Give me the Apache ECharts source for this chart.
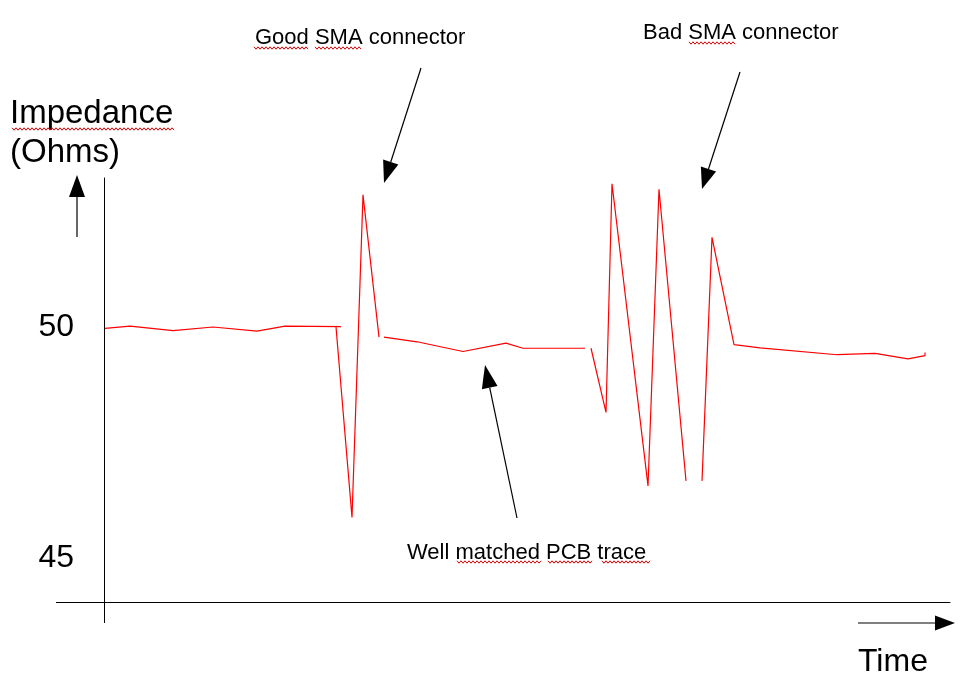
<!DOCTYPE html>
<html>
<head>
<meta charset="utf-8">
<title>Impedance vs time</title>
<script src="https://cdn.jsdelivr.net/npm/echarts@6/dist/echarts.min.js"></script>
<style>
html, body { margin: 0; padding: 0; background: #fff; }
#chart { width: 965px; height: 689px; }
</style>
</head>
<body>
<div id="chart"></div>
<script>
// trace; null marks a break in the drawn line
var timeValues = [1, 26, 69, 109, 153, 181, 237, null,
	232, 248, 259, 275, null,
	280, 313, 359, 402, 419, 481, null,
	487, 502, 508, 544, 555, 582, null,
	598, 608, 630, 656, 733, 771, 804, 821, 821];
var impedance = [49.97, 50.02, 49.92, 50.00, 49.91, 50.02, 50.01, null,
	50.00, 45.88, 52.86, 49.78, null,
	49.78, 49.68, 49.47, 49.65, 49.54, 49.54, null,
	49.54, 48.15, 53.10, 46.56, 52.98, 46.67, null,
	46.67, 51.94, 49.62, 49.55, 49.40, 49.43, 49.31, 49.38, 49.45];
var yTickValues = [45, 50];

var FONT = "'Liberation Sans', Arial, sans-serif";

var chart = echarts.init(document.getElementById('chart'));

// shaft + filled triangular head, tip at (x2, y2)
function arrow(x1, y1, x2, y2, headLen, headW) {
	var dx = x2 - x1, dy = y2 - y1;
	var len = Math.sqrt(dx * dx + dy * dy);
	var ux = dx / len, uy = dy / len;
	var bx = x2 - ux * headLen, by = y2 - uy * headLen;
	var px = -uy * headW / 2, py = ux * headW / 2;
	return [{
		type: 'line',
		shape: { x1: x1, y1: y1, x2: bx, y2: by },
		style: { stroke: '#000', lineWidth: 1.2 }
	}, {
		type: 'polygon',
		shape: { points: [[x2, y2], [bx + px, by + py], [bx - px, by - py]] },
		style: { fill: '#000' }
	}];
}

// red spell-check squiggle under a word
function squiggle(x1, x2, y) {
	var pts = [];
	var up = true;
	for (var x = x1; x <= x2; x += 2) {
		pts.push([x, up ? y - 1.2 : y + 1.2]);
		up = !up;
	}
	return {
		type: 'polyline',
		shape: { points: pts },
		style: { stroke: '#e00000', lineWidth: 1, fill: null }
	};
}

function label(text, x, y, size) {
	return {
		type: 'text',
		style: {
			text: text, x: x, y: y,
			font: size + 'px ' + FONT,
			fill: '#000',
			align: 'left',
			verticalAlign: 'middle'
		}
	};
}

var graphics = [];
graphics.push(label('Impedance', 10, 114, 33));
graphics.push(label('(Ohms)', 10, 153, 33));
graphics.push(label('Time', 858, 662, 32));
graphics.push(label('Good SMA connector', 255, 38, 22));
graphics.push(label('Bad SMA connector', 643, 33, 22));
graphics.push(label('Well matched PCB trace', 407, 553, 22));

graphics = graphics.concat(arrow(421, 68, 384, 183, 22, 16));
graphics = graphics.concat(arrow(740, 72, 702, 189, 21, 16));
graphics = graphics.concat(arrow(517, 518, 485, 365, 23, 16));
graphics = graphics.concat(arrow(77, 237, 77, 175, 22, 16));
graphics = graphics.concat(arrow(858, 623, 955, 623, 20, 15));

// the two axis lines overshoot each other a little
graphics.push({
	type: 'line',
	shape: { x1: 104.5, y1: 602, x2: 104.5, y2: 623 },
	style: { stroke: '#000', lineWidth: 1 }
});
graphics.push({
	type: 'line',
	shape: { x1: 56, y1: 602.5, x2: 105, y2: 602.5 },
	style: { stroke: '#000', lineWidth: 1 }
});

graphics.push(squiggle(12, 175, 129));
graphics.push(squiggle(254, 308, 48));
graphics.push(squiggle(315, 362, 48));
graphics.push(squiggle(689, 736, 43));
graphics.push(squiggle(457, 542, 562));
graphics.push(squiggle(548, 593, 562));
graphics.push(squiggle(602, 650, 562));

var seriesData = [];
for (var i = 0; i < timeValues.length; i++) {
	if (timeValues[i] === null) {
		seriesData.push(['-', '-']);
	} else {
		seriesData.push([timeValues[i], impedance[i]]);
	}
}

var option = {
	animation: false,
	backgroundColor: '#fff',
	grid: {
		left: 104,
		right: 15,
		top: 178,
		bottom: 87,
		outerBoundsMode: 'none',
		containLabel: false
	},
	xAxis: {
		type: 'value',
		min: 0,
		max: 846,
		axisLine: {
			show: true,
			onZero: false,
			lineStyle: { color: '#000', width: 1 }
		},
		axisTick: { show: false },
		axisLabel: { show: false },
		splitLine: { show: false }
	},
	yAxis: {
		type: 'value',
		min: 44.048,
		max: 53.225,
		axisLine: {
			show: true,
			onZero: false,
			lineStyle: { color: '#000', width: 1 }
		},
		axisTick: { show: false },
		splitLine: { show: false },
		axisLabel: {
			customValues: yTickValues,
			fontSize: 32,
			fontFamily: FONT,
			color: '#000',
			margin: 30
		}
	},
	series: [{
		name: 'Impedance',
		type: 'line',
		data: seriesData,
		showSymbol: false,
		connectNulls: false,
		silent: true,
		lineStyle: { color: '#ff0000', width: 1.2 }
	}],
	graphic: graphics
};

chart.setOption(option);
</script>
</body>
</html>
